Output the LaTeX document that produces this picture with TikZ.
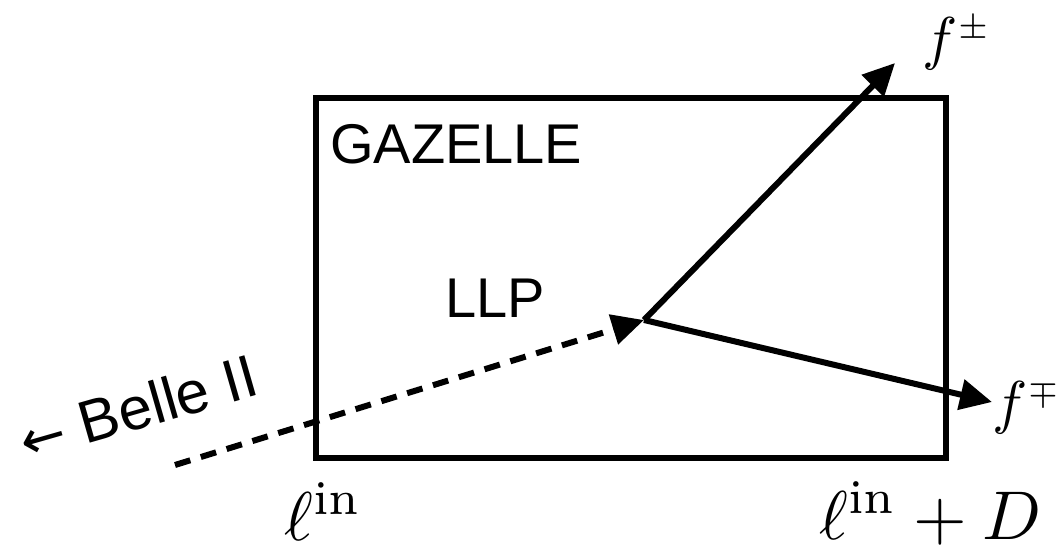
\documentclass[tikz,border=0pt]{standalone}
\usepackage{fontspec}
\newfontfamily\hv{Liberation Sans}
\newfontfamily\arrowfont{DejaVu Sans}
\usetikzlibrary{arrows.meta}
\tikzset{
  thick line/.style={line width=6pt},
  tip/.style={-{Triangle[length=32pt,width=30pt]}},
  sanslabel/.style={font=\hv\fontsize{56}{60}\selectfont, inner sep=0pt},
  flabel/.style={font=\fontsize{10}{12}\selectfont, scale=5.9, inner sep=0pt},
  elllabel/.style={font=\fontsize{10}{12}\selectfont, scale=6.9, inner sep=0pt},
}
\begin{document}
\begin{tikzpicture}[x=1pt,y=-1pt]
\useasboundingbox (0,0) rectangle (1057,546);
\node[draw, thick line, minimum width=630pt, minimum height=360pt, inner sep=0pt] (box) at (631,278) {};
\coordinate (v) at (644,320);
\coordinate (belle) at (175,465);
\coordinate (fptip) at (895,63);
\coordinate (fmtip) at (992,402);
\draw[thick line, tip, dash pattern=on 16pt off 11pt] (belle) -- (v);
\draw[thick line, tip] (v) -- (fptip);
\draw[thick line, tip] (v) -- (fmtip);
\node[sanslabel, anchor=base west] (gaz) at (330,163) {GAZELLE};
\node[sanslabel, anchor=base west] (llp) at (445,317) {LLP};
\node[font=\hv\fontsize{60}{64}\selectfont, inner sep=0pt, anchor=base west, rotate=16] (bel) at (26,462) {{\arrowfont\fontsize{54}{60}\selectfont ←} Belle II};
\node[flabel, anchor=base west] (fp) at (921,58) {$f^{\scriptscriptstyle\pm}$};
\node[flabel, anchor=base west] (fm) at (991,422) {$f^{\scriptscriptstyle\mp}$};
\node[elllabel, anchor=base west] (lin) at (283,540) {$\ell^{\mathrm{in}}$};
\node[elllabel, anchor=base west] (lind) at (818,539) {$\ell^{\mathrm{in}}+D$};
\end{tikzpicture}
\end{document}
